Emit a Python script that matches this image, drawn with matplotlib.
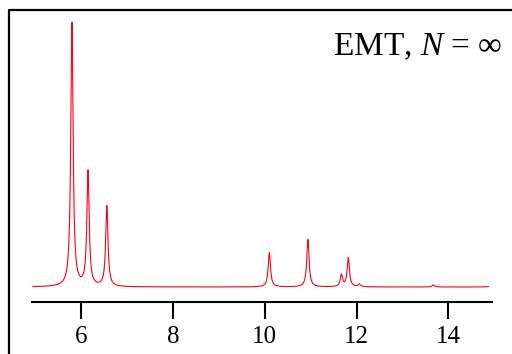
import numpy as np
import matplotlib.pyplot as plt
from matplotlib.lines import Line2D

# peak list of the spectrum (position, relative intensity)
positions = [5.80, 6.15, 6.56, 10.10, 10.94, 11.67, 11.82, 12.06, 13.67, 14.97]
intensities = [1.0, 0.435, 0.305, 0.13, 0.18, 0.045, 0.11, 0.01, 0.008, 0.02]
width = 0.03  # Lorentzian half width

xticks = [6, 8, 10, 12, 14]
title = r"EMT, $N$ = $\infty$"

plt.rcParams['font.family'] = ['Liberation Serif', 'DejaVu Serif']
plt.rcParams['mathtext.fontset'] = 'custom'
plt.rcParams['mathtext.it'] = 'Liberation Serif:italic'
plt.rcParams['mathtext.rm'] = 'Liberation Serif'

x = np.linspace(4.95, 14.87, 5000)
y = np.zeros_like(x)
for p, a in zip(positions, intensities):
    y += a * width**2 / ((x - p)**2 + width**2)

fig = plt.figure(figsize=(5.12, 3.54), dpi=100)
ax = fig.add_axes([32/512, 52/354, 460/512, 292/354])

ax.plot(x, y, color='#ff0019', lw=0.8)

ax.set_xlim(4.93, 14.95)
ax.set_ylim(-15/264, 277/264)
ax.set_xticks(xticks)
ax.set_yticks([])
for s in ['left', 'right', 'top']:
    ax.spines[s].set_visible(False)
ax.spines['bottom'].set_linewidth(1.5)
ax.tick_params(axis='x', length=12, width=1.5, labelsize=18, pad=5)

fig.text(502/512, 1 - 55/354, title, ha='right', va='baseline', fontsize=24)

# outer frame (left and top edges)
fig.add_artist(Line2D([8.5/512, 8.5/512, 1.0], [0.0, 1 - 10/354, 1 - 10/354],
                      transform=fig.transFigure, color='black', lw=1.6))

fig.savefig('out.png', dpi=100)
